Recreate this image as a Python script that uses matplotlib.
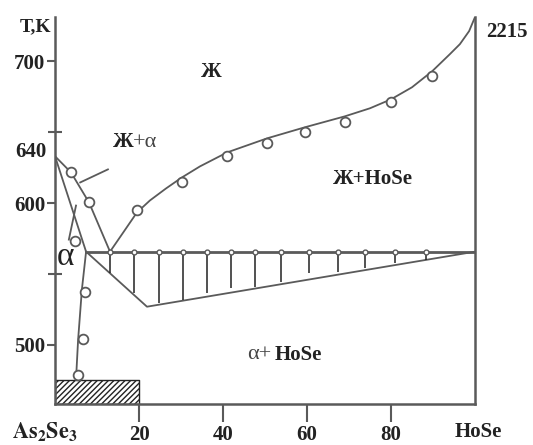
import matplotlib.pyplot as plt
import matplotlib.transforms as mtransforms

# composition, mol% HoSe  /  temperature, K
liq_left_x = [0, 3.8, 8.1, 13.1]
liq_left_t = [633, 621.6, 600.4, 565.7]

liq_right_x = [13.1, 16.4, 19.5, 22.6, 26.4, 30.2, 34.5, 41.0, 50.5, 59.5,
               69.0, 75.0, 80.0, 85.0, 89.8, 94.0, 96.4, 98.6, 100]
liq_right_t = [565.7, 579.9, 593.3, 601.8, 610.2, 618.0, 625.8, 635.7, 645.6, 653.4,
               661.1, 666.8, 673.1, 681.6, 692.9, 704.9, 712.0, 721.2, 731.1]

solidus_x = [0, 7.4, 6.4, 5.5, 5.0]
solidus_t = [633, 565.7, 538.9, 503.5, 475.5]

eut_t = 565.7
eut_x = [7.4, 100]
lower_x = [7.4, 21.9, 100]
lower_t = [565.7, 526.9, 565.7]

tie_x = [13.1, 18.8, 24.8, 30.5, 36.2, 41.9, 47.6, 53.8, 60.5, 67.4, 73.8, 81.0, 88.3]
tie_bottom = [550.9, 536.7, 529.7, 531.8, 536.7, 540.3, 541.0, 544.5, 550.9, 551.6,
              554.4, 558.0, 560.1]

pts_liq_x = [3.8, 8.1, 19.5, 30.2, 41.0, 50.5, 59.5, 69.0, 80.0, 89.8]
pts_liq_t = [621.6, 600.4, 595.4, 614.5, 632.9, 642.0, 649.8, 656.9, 671.0, 689.4]
pts_sol_x = [4.8, 7.1, 6.7, 5.5]
pts_sol_t = [573.5, 537.5, 504.2, 478.8]

mark1_x, mark1_t = [6.0, 12.6], [614.5, 623.7]
mark2_x, mark2_t = [5.0, 3.3], [598.2, 574.2]

hatch_x = (0, 20)
hatch_t = (458.3, 475.3)

xticks = [20, 40, 60, 80]
yticks = [500, 600, 700]
yminor = [550, 650]

gray = '#5a5a5a'
ink = '#222222'
serif = 'Liberation Serif'
plt.rcParams['mathtext.fontset'] = 'stix'

fig = plt.figure(figsize=(5.33, 4.45), dpi=100)
ax = fig.add_axes([55 / 533, 41 / 445, 420 / 533, 387.5 / 445])
ax.set_xlim(0, 100)
ax.set_ylim(458.3, 731.5)

lw = 1.3
ax.plot(liq_left_x, liq_left_t, color=gray, lw=lw)
ax.plot(liq_right_x, liq_right_t, color=gray, lw=lw)
ax.plot(solidus_x, solidus_t, color=gray, lw=lw)
ax.plot(eut_x, [eut_t, eut_t], color=gray, lw=2)
ax.plot(lower_x, lower_t, color=gray, lw=lw)
ax.plot(mark1_x, mark1_t, color=gray, lw=lw)
ax.plot(mark2_x, mark2_t, color=gray, lw=lw)
ax.vlines(tie_x, tie_bottom, eut_t, color=ink, lw=1.1)
ax.plot(tie_x, [eut_t] * len(tie_x), 'o', ms=3.5, mfc='white', mec=gray, mew=1)
ax.plot(pts_liq_x, pts_liq_t, 'o', ms=7, mfc='white', mec=gray, mew=1.3)
ax.plot(pts_sol_x, pts_sol_t, 'o', ms=7, mfc='white', mec=gray, mew=1.3)

ax.fill_between(hatch_x, hatch_t[0], hatch_t[1], facecolor='white',
                edgecolor=ink, hatch='//////', lw=1)

for side in ['left', 'right', 'bottom']:
    ax.spines[side].set_color(gray)
    ax.spines[side].set_linewidth(1.8)
ax.spines['top'].set_visible(False)

ax.set_xticks(xticks)
ax.set_xticklabels([str(v) for v in xticks])
ax.set_yticks(yticks)
ax.set_yticklabels([str(v) for v in yticks])
ax.set_yticks(yminor, minor=True)
ax.tick_params(axis='x', direction='out', length=13, width=1.5, color=gray, pad=2)
ax.tick_params(axis='y', which='major', direction='out', length=6, width=1.5, color=gray, pad=1)
ax.tick_params(axis='y', which='minor', direction='inout', length=10, width=1.5, color=gray)
for lab in ax.get_xticklabels() + ax.get_yticklabels():
    lab.set_fontfamily(serif)
    lab.set_fontweight('bold')
    lab.set_fontsize(15)
    lab.set_color(ink)

bold = dict(family=serif, weight='bold', color=ink)
plain = dict(family=serif, color='#444444')
trans_y = mtransforms.blended_transform_factory(fig.transFigure, ax.transData)
fig.text(47 / 533, 635.7, '640', transform=trans_y, ha='right', va='center', fontsize=15, **bold)
fig.text(35 / 533, 418 / 445, 'T,K', ha='center', va='center', fontsize=14, **bold)
fig.text(507 / 533, 413 / 445, '2215', ha='center', va='center', fontsize=15, **bold)
fig.text(45 / 533, 13 / 445, r'$\mathbf{As_2Se_3}$', ha='center', va='center', fontsize=16, color=ink)
fig.text(478 / 533, 13 / 445, 'HoSe', ha='center', va='center', fontsize=15, **bold)

ax.text(37.1, 692.2, 'Ж', ha='center', va='center', fontsize=15, **bold)
ax.text(18.6, 642.8, 'Ж', ha='right', va='center', fontsize=15, **bold)
ax.text(18.6, 642.8, '+α', ha='left', va='center', fontsize=16, **plain)
ax.text(75.7, 616.6, 'Ж+HoSe', ha='center', va='center', fontsize=15, **bold)
ax.text(2.4, 562.2, 'α', ha='center', va='center', fontsize=24, family=serif, color=ink)
ax.text(51.5, 492.9, 'α+', ha='right', va='center', fontsize=16, **plain)
ax.text(52.3, 492.9, 'HoSe', ha='left', va='center', fontsize=15, **bold)

fig.savefig('out.png', dpi=100)
